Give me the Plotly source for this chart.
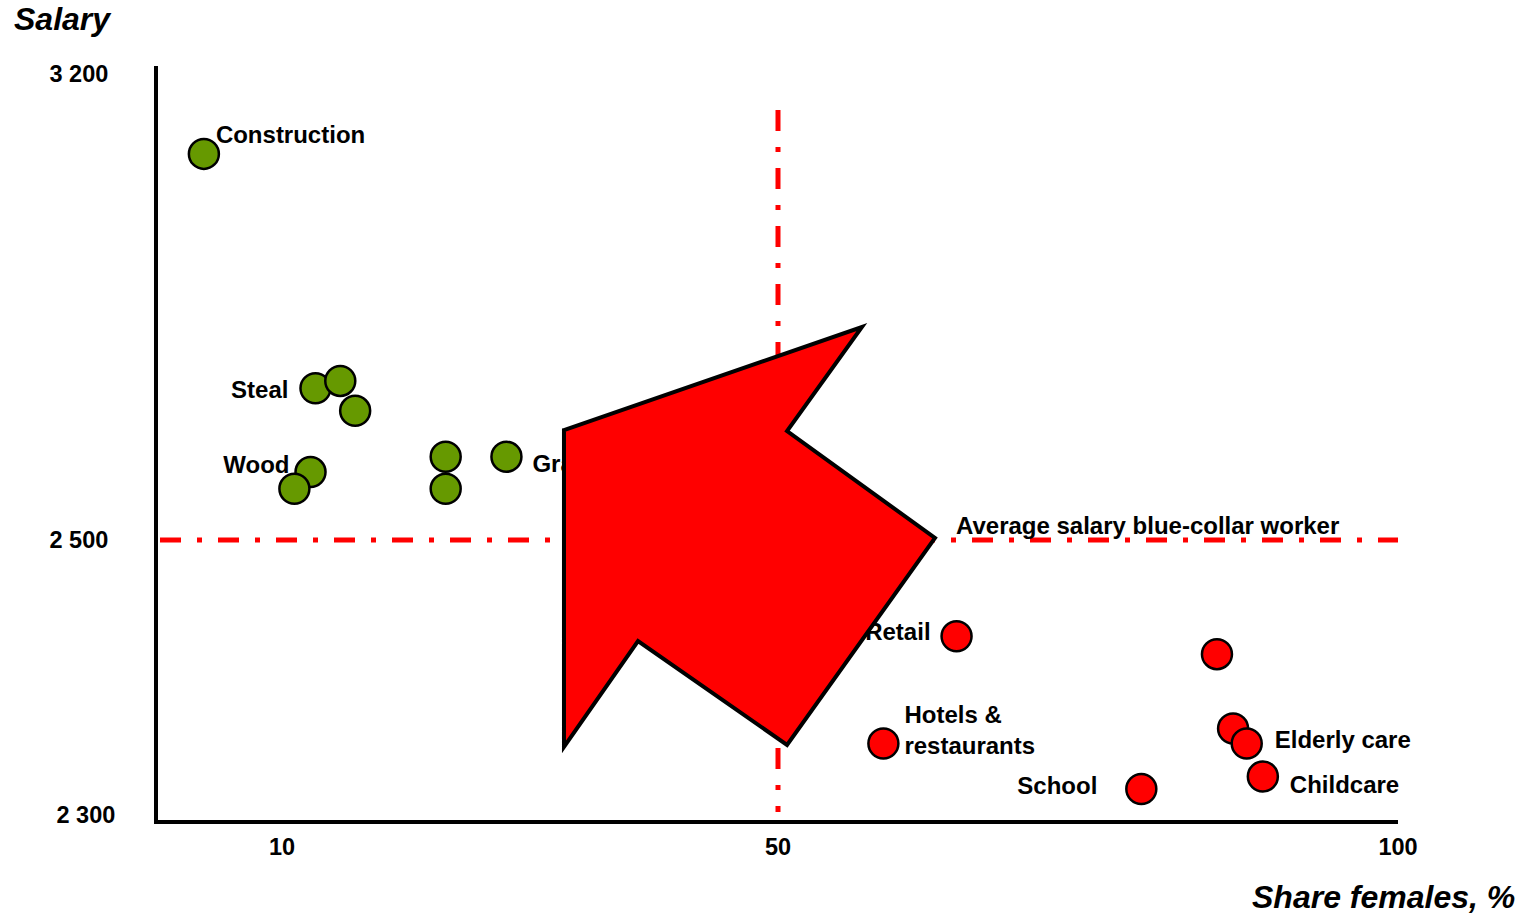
import plotly.graph_objects as go

# ---------------- data ----------------
green_labels = ["Construction", "Steal", "", "", "Wood", "", "", "", "Graphic"]
green_share = [3.7, 12.7, 14.7, 15.9, 12.3, 11.0, 23.2, 23.2, 28.1]
green_salary = [3080, 2728, 2739, 2694, 2602, 2577, 2625, 2577, 2625]

red_labels = ["Retail", "", "", "Elderly care", "Childcare", "School", "Hotels &<br>restaurants"]
red_share = [64.4, 85.4, 86.7, 87.8, 89.1, 79.3, 58.5]
red_salary = [2430, 2417, 2363, 2352, 2328, 2319, 2352]

avg_salary = 2500
avg_share = 50
x_ticks = [10, 50, 100]
x_ticktext = ["10", "50", "100"]
y_upper_ticks = [2500, 3200]
y_upper_ticktext = ["2 500", "3 200"]
y_lower_ticks = [2300]
y_lower_ticktext = ["2 300"]
avg_label = "Average salary blue-collar worker"

# ---------------- layout constants ----------------
W, H = 1525, 914
ML, MR, MT, MB = 158, 127, 66, 94
PW = W - ML - MR          # plot width
PH = H - MT - MB          # plot height
H_LOW = 280               # pixel height of lower (2300-2500) segment
X_RANGE = [0, 100]
Y_UP_RANGE = [2500, 3212]
Y_LOW_RANGE = [2296.4, 2500]
split = H_LOW / PH

px_per_x = PW / (X_RANGE[1] - X_RANGE[0])
px_per_y_up = (PH - H_LOW) / (Y_UP_RANGE[1] - Y_UP_RANGE[0])
px_per_y_low = H_LOW / (Y_LOW_RANGE[1] - Y_LOW_RANGE[0])

FONT = "Liberation Sans, Arial, sans-serif"
FS = 23.5
FS_LABEL = 24
GREEN = "#669900"
RED = "#FF0000"

# label offsets from their point, in pixels (dx, dy screen), and side
green_off = {0: (12, -19, "r"), 1: (-27, 1, "l"), 4: (-21, -8, "l"), 8: (26, 7, "r")}
red_off = {0: (-26, -5, "l"), 3: (28, -4, "r"), 4: (27, 8, "r"), 5: (-44, -4, "l"), 6: (21, -13.5, "r")}
CENTER_SHIFT = 2.6


def label_traces(labels, xs, ys, offs, ppy, yaxis):
    out = []
    for i, (dx, dy, side) in offs.items():
        out.append(go.Scatter(
            x=[xs[i] + dx / px_per_x],
            y=[ys[i] - (dy + CENTER_SHIFT) / ppy],
            text=[labels[i]], mode="text",
            textposition="middle right" if side == "r" else "middle left",
            textfont=dict(family=FONT, size=FS_LABEL, color="black", weight="bold"),
            yaxis=yaxis, showlegend=False, cliponaxis=False, hoverinfo="skip"))
    return out


fig = go.Figure()
fig.add_trace(go.Scatter(
    x=green_share, y=green_salary, mode="markers", yaxis="y",
    marker=dict(size=30, color=GREEN, line=dict(color="black", width=2.5)),
    showlegend=False, cliponaxis=False))
fig.add_trace(go.Scatter(
    x=red_share, y=red_salary, mode="markers", yaxis="y2",
    marker=dict(size=30, color=RED, line=dict(color="black", width=2.5)),
    showlegend=False, cliponaxis=False))
for t in label_traces(green_labels, green_share, green_salary, green_off, px_per_y_up, "y"):
    fig.add_trace(t)
for t in label_traces(red_labels, red_share, red_salary, red_off, px_per_y_low, "y2"):
    fig.add_trace(t)

tickfont = dict(family=FONT, size=FS, color="black", weight="bold")
axis_common = dict(showline=True, linewidth=4, linecolor="black", showgrid=False,
                   zeroline=False, ticks="", tickfont=tickfont, tickmode="array")


def px2paper_x(px):
    return (px - ML) / PW


def px2paper_y(py):
    return (MT + PH - py) / PH


arrow_px = [(564, 430), (862, 327), (787, 431), (935, 538), (787, 745), (638, 641), (564, 747)]
arrow_path = "M " + " L ".join(f"{px2paper_x(a):.4f},{px2paper_y(b):.4f}" for a, b in arrow_px) + " Z"

DASH = dict(color=RED, width=5, dash="21px,16px,5px,16px")

fig.update_layout(
    width=W, height=H, autosize=False,
    margin=dict(l=ML, r=MR, t=MT, b=MB, pad=0),
    paper_bgcolor="white", plot_bgcolor="white",
    xaxis=dict(domain=[0, 1], range=X_RANGE, anchor="y2", tickvals=x_ticks,
               ticktext=x_ticktext, ticklabelstandoff=3, **axis_common),
    yaxis=dict(domain=[split, 1], range=Y_UP_RANGE, anchor="x", tickvals=y_upper_ticks,
               ticktext=y_upper_ticktext, ticklabelstandoff=41, **axis_common),
    yaxis2=dict(domain=[0, split], range=Y_LOW_RANGE, anchor="x", tickvals=y_lower_ticks,
                ticktext=y_lower_ticktext, ticklabelstandoff=34, **axis_common),
    shapes=[
        # average salary line (sits on the boundary of the two y segments)
        dict(type="line", xref="x", yref="paper", x0=X_RANGE[0] + 2 / px_per_x, x1=X_RANGE[1],
             y0=split, y1=split, layer="below", line=DASH),
        dict(type="line", xref="x", yref="paper", x0=avg_share, x1=avg_share,
             y0=px2paper_y(110), y1=px2paper_y(812), layer="below", line=DASH),
        dict(type="path", xref="paper", yref="paper", path=arrow_path,
             fillcolor=RED, line=dict(color="black", width=4), layer="above"),
    ],
    annotations=[
        dict(text="Salary", xref="paper", yref="paper", x=px2paper_x(12), y=px2paper_y(19),
             xanchor="left", yanchor="middle", showarrow=False,
             font=dict(family=FONT, size=32, color="black", weight="bold", style="italic")),
        dict(text="Share females, %", xref="paper", yref="paper", x=px2paper_x(1517),
             y=px2paper_y(897), xanchor="right", yanchor="middle", showarrow=False,
             font=dict(family=FONT, size=32, color="black", weight="bold", style="italic")),
        dict(text=avg_label, xref="x", yref="y", x=avg_share + (957 - 779) / px_per_x - 0.2,
             y=avg_salary, yshift=15, xanchor="left", yanchor="middle", showarrow=False,
             font=dict(family=FONT, size=FS_LABEL, color="black", weight="bold")),
    ],
)

fig.write_html("out.html")
